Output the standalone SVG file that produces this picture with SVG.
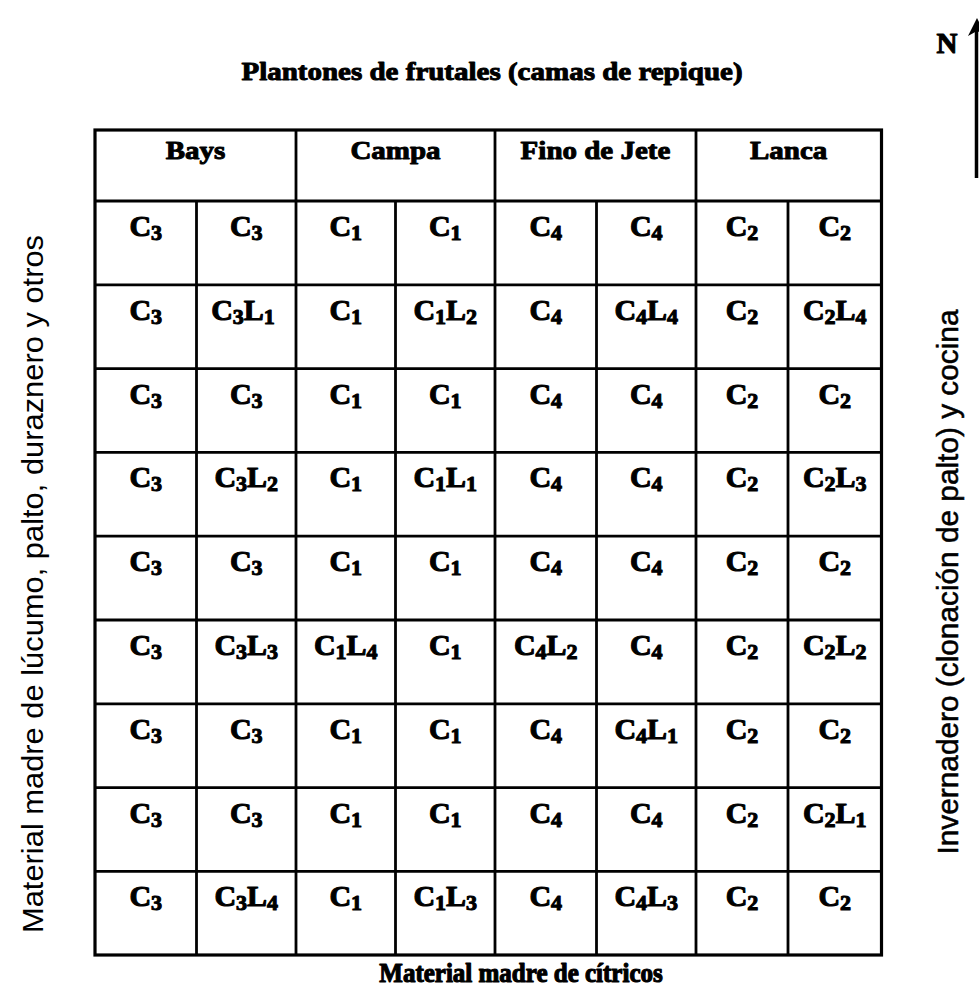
<svg xmlns="http://www.w3.org/2000/svg" width="979" height="992" viewBox="0 0 979 992">
<style>
.bg{fill:#fff}
.ser{font-family:"Liberation Serif","Times New Roman",serif;font-weight:bold;fill:#000;stroke:#000;stroke-width:1.1;stroke-linejoin:round}
.cell{font-size:30px;text-anchor:middle}
.hdr{font-size:29px;text-anchor:middle}
.sub{font-size:22px}
.san{font-family:"Liberation Sans",Arial,sans-serif;font-size:29px;fill:#000;text-anchor:middle}
.grid line{stroke:#000;stroke-width:2.8}
.outer{fill:none;stroke:#000;stroke-width:3.2}
</style>
<rect class="bg" x="0" y="0" width="979" height="992"/>
<g id="title"><text class="ser hdr" transform="translate(492 80) scale(1 0.9)">Plantones de frutales (camas de repique)</text></g>
<g id="north">
<text class="ser" font-size="29" text-anchor="middle" x="947" y="53">N</text>
<line x1="976.5" y1="28" x2="976.5" y2="178" stroke="#000" stroke-width="3.5"/>
<polygon points="977,18 968,36 977,31 986,36" fill="#000"/>
</g>
<g id="label-left"><text class="san" transform="translate(43 584) rotate(-90)" textLength="698" lengthAdjust="spacingAndGlyphs">Material madre de lúcumo, palto, duraznero y otros</text></g>
<g id="label-right"><text class="san" stroke="#000" stroke-width="0.5" transform="translate(958 582) rotate(-90)" textLength="545" lengthAdjust="spacingAndGlyphs">Invernadero (clonación de palto) y cocina</text></g>
<g id="label-bottom"><text class="ser" font-size="25" text-anchor="middle" transform="translate(521 982) scale(1 1.05)">Material madre de cítricos</text></g>
<g id="table">
<rect class="outer" x="95" y="130" width="786.5" height="825"/>
<g class="grid">
<line x1="95" y1="201" x2="881.5" y2="201"/>
<line x1="95" y1="284.8" x2="881.5" y2="284.8"/>
<line x1="95" y1="368.6" x2="881.5" y2="368.6"/>
<line x1="95" y1="452.4" x2="881.5" y2="452.4"/>
<line x1="95" y1="536.2" x2="881.5" y2="536.2"/>
<line x1="95" y1="620" x2="881.5" y2="620"/>
<line x1="95" y1="703.8" x2="881.5" y2="703.8"/>
<line x1="95" y1="787.6" x2="881.5" y2="787.6"/>
<line x1="95" y1="871.4" x2="881.5" y2="871.4"/>
<line x1="296" y1="130" x2="296" y2="955"/>
<line x1="495" y1="130" x2="495" y2="955"/>
<line x1="696" y1="130" x2="696" y2="955"/>
<line x1="196.5" y1="201" x2="196.5" y2="955"/>
<line x1="395.5" y1="201" x2="395.5" y2="955"/>
<line x1="596.5" y1="201" x2="596.5" y2="955"/>
<line x1="788" y1="201" x2="788" y2="955"/>
</g>
</g>
<g id="headers">
<g id="h-bays"><text class="ser hdr" transform="translate(195.5 159) scale(1 0.9)">Bays</text></g>
<g id="h-campa"><text class="ser hdr" transform="translate(395.5 159) scale(1 0.9)">Campa</text></g>
<g id="h-fino"><text class="ser hdr" transform="translate(595.5 159) scale(1 0.9)">Fino de Jete</text></g>
<g id="h-lanca"><text class="ser hdr" transform="translate(788.7 159) scale(1 0.9)">Lanca</text></g>
</g>
<g id="cells">
<!-- row 1 -->
<text class="ser cell" x="145.75" y="236">C<tspan class="sub" dy="4">3</tspan></text>
<text class="ser cell" x="246.25" y="236">C<tspan class="sub" dy="4">3</tspan></text>
<text class="ser cell" x="345.75" y="236">C<tspan class="sub" dy="4">1</tspan></text>
<text class="ser cell" x="445.25" y="236">C<tspan class="sub" dy="4">1</tspan></text>
<text class="ser cell" x="545.75" y="236">C<tspan class="sub" dy="4">4</tspan></text>
<text class="ser cell" x="646.25" y="236">C<tspan class="sub" dy="4">4</tspan></text>
<text class="ser cell" x="742" y="236">C<tspan class="sub" dy="4">2</tspan></text>
<text class="ser cell" x="834.75" y="236">C<tspan class="sub" dy="4">2</tspan></text>
<!-- row 2 -->
<text class="ser cell" x="145.75" y="319.8">C<tspan class="sub" dy="4">3</tspan></text>
<text class="ser cell" x="243" y="319.8">C<tspan class="sub" dy="4">3</tspan><tspan dy="-4">L</tspan><tspan class="sub" dy="4">1</tspan></text>
<text class="ser cell" x="345.75" y="319.8">C<tspan class="sub" dy="4">1</tspan></text>
<text class="ser cell" x="445.25" y="319.8">C<tspan class="sub" dy="4">1</tspan><tspan dy="-4">L</tspan><tspan class="sub" dy="4">2</tspan></text>
<text class="ser cell" x="545.75" y="319.8">C<tspan class="sub" dy="4">4</tspan></text>
<text class="ser cell" x="646.25" y="319.8">C<tspan class="sub" dy="4">4</tspan><tspan dy="-4">L</tspan><tspan class="sub" dy="4">4</tspan></text>
<text class="ser cell" x="742" y="319.8">C<tspan class="sub" dy="4">2</tspan></text>
<text class="ser cell" x="834.75" y="319.8">C<tspan class="sub" dy="4">2</tspan><tspan dy="-4">L</tspan><tspan class="sub" dy="4">4</tspan></text>
<!-- row 3 -->
<text class="ser cell" x="145.75" y="403.6">C<tspan class="sub" dy="4">3</tspan></text>
<text class="ser cell" x="246.25" y="403.6">C<tspan class="sub" dy="4">3</tspan></text>
<text class="ser cell" x="345.75" y="403.6">C<tspan class="sub" dy="4">1</tspan></text>
<text class="ser cell" x="445.25" y="403.6">C<tspan class="sub" dy="4">1</tspan></text>
<text class="ser cell" x="545.75" y="403.6">C<tspan class="sub" dy="4">4</tspan></text>
<text class="ser cell" x="646.25" y="403.6">C<tspan class="sub" dy="4">4</tspan></text>
<text class="ser cell" x="742" y="403.6">C<tspan class="sub" dy="4">2</tspan></text>
<text class="ser cell" x="834.75" y="403.6">C<tspan class="sub" dy="4">2</tspan></text>
<!-- row 4 -->
<text class="ser cell" x="145.75" y="487.4">C<tspan class="sub" dy="4">3</tspan></text>
<text class="ser cell" x="246.25" y="487.4">C<tspan class="sub" dy="4">3</tspan><tspan dy="-4">L</tspan><tspan class="sub" dy="4">2</tspan></text>
<text class="ser cell" x="345.75" y="487.4">C<tspan class="sub" dy="4">1</tspan></text>
<text class="ser cell" x="445.25" y="487.4">C<tspan class="sub" dy="4">1</tspan><tspan dy="-4">L</tspan><tspan class="sub" dy="4">1</tspan></text>
<text class="ser cell" x="545.75" y="487.4">C<tspan class="sub" dy="4">4</tspan></text>
<text class="ser cell" x="646.25" y="487.4">C<tspan class="sub" dy="4">4</tspan></text>
<text class="ser cell" x="742" y="487.4">C<tspan class="sub" dy="4">2</tspan></text>
<text class="ser cell" x="834.75" y="487.4">C<tspan class="sub" dy="4">2</tspan><tspan dy="-4">L</tspan><tspan class="sub" dy="4">3</tspan></text>
<!-- row 5 -->
<text class="ser cell" x="145.75" y="571.2">C<tspan class="sub" dy="4">3</tspan></text>
<text class="ser cell" x="246.25" y="571.2">C<tspan class="sub" dy="4">3</tspan></text>
<text class="ser cell" x="345.75" y="571.2">C<tspan class="sub" dy="4">1</tspan></text>
<text class="ser cell" x="445.25" y="571.2">C<tspan class="sub" dy="4">1</tspan></text>
<text class="ser cell" x="545.75" y="571.2">C<tspan class="sub" dy="4">4</tspan></text>
<text class="ser cell" x="646.25" y="571.2">C<tspan class="sub" dy="4">4</tspan></text>
<text class="ser cell" x="742" y="571.2">C<tspan class="sub" dy="4">2</tspan></text>
<text class="ser cell" x="834.75" y="571.2">C<tspan class="sub" dy="4">2</tspan></text>
<!-- row 6 -->
<text class="ser cell" x="145.75" y="655">C<tspan class="sub" dy="4">3</tspan></text>
<text class="ser cell" x="246.25" y="655">C<tspan class="sub" dy="4">3</tspan><tspan dy="-4">L</tspan><tspan class="sub" dy="4">3</tspan></text>
<text class="ser cell" x="345.75" y="655">C<tspan class="sub" dy="4">1</tspan><tspan dy="-4">L</tspan><tspan class="sub" dy="4">4</tspan></text>
<text class="ser cell" x="445.25" y="655">C<tspan class="sub" dy="4">1</tspan></text>
<text class="ser cell" x="545.75" y="655">C<tspan class="sub" dy="4">4</tspan><tspan dy="-4">L</tspan><tspan class="sub" dy="4">2</tspan></text>
<text class="ser cell" x="646.25" y="655">C<tspan class="sub" dy="4">4</tspan></text>
<text class="ser cell" x="742" y="655">C<tspan class="sub" dy="4">2</tspan></text>
<text class="ser cell" x="834.75" y="655">C<tspan class="sub" dy="4">2</tspan><tspan dy="-4">L</tspan><tspan class="sub" dy="4">2</tspan></text>
<!-- row 7 -->
<text class="ser cell" x="145.75" y="738.8">C<tspan class="sub" dy="4">3</tspan></text>
<text class="ser cell" x="246.25" y="738.8">C<tspan class="sub" dy="4">3</tspan></text>
<text class="ser cell" x="345.75" y="738.8">C<tspan class="sub" dy="4">1</tspan></text>
<text class="ser cell" x="445.25" y="738.8">C<tspan class="sub" dy="4">1</tspan></text>
<text class="ser cell" x="545.75" y="738.8">C<tspan class="sub" dy="4">4</tspan></text>
<text class="ser cell" x="646.25" y="738.8">C<tspan class="sub" dy="4">4</tspan><tspan dy="-4">L</tspan><tspan class="sub" dy="4">1</tspan></text>
<text class="ser cell" x="742" y="738.8">C<tspan class="sub" dy="4">2</tspan></text>
<text class="ser cell" x="834.75" y="738.8">C<tspan class="sub" dy="4">2</tspan></text>
<!-- row 8 -->
<text class="ser cell" x="145.75" y="822.6">C<tspan class="sub" dy="4">3</tspan></text>
<text class="ser cell" x="246.25" y="822.6">C<tspan class="sub" dy="4">3</tspan></text>
<text class="ser cell" x="345.75" y="822.6">C<tspan class="sub" dy="4">1</tspan></text>
<text class="ser cell" x="445.25" y="822.6">C<tspan class="sub" dy="4">1</tspan></text>
<text class="ser cell" x="545.75" y="822.6">C<tspan class="sub" dy="4">4</tspan></text>
<text class="ser cell" x="646.25" y="822.6">C<tspan class="sub" dy="4">4</tspan></text>
<text class="ser cell" x="742" y="822.6">C<tspan class="sub" dy="4">2</tspan></text>
<text class="ser cell" x="834.75" y="822.6">C<tspan class="sub" dy="4">2</tspan><tspan dy="-4">L</tspan><tspan class="sub" dy="4">1</tspan></text>
<!-- row 9 -->
<text class="ser cell" x="145.75" y="906.4">C<tspan class="sub" dy="4">3</tspan></text>
<text class="ser cell" x="246.25" y="906.4">C<tspan class="sub" dy="4">3</tspan><tspan dy="-4">L</tspan><tspan class="sub" dy="4">4</tspan></text>
<text class="ser cell" x="345.75" y="906.4">C<tspan class="sub" dy="4">1</tspan></text>
<text class="ser cell" x="445.25" y="906.4">C<tspan class="sub" dy="4">1</tspan><tspan dy="-4">L</tspan><tspan class="sub" dy="4">3</tspan></text>
<text class="ser cell" x="545.75" y="906.4">C<tspan class="sub" dy="4">4</tspan></text>
<text class="ser cell" x="646.25" y="906.4">C<tspan class="sub" dy="4">4</tspan><tspan dy="-4">L</tspan><tspan class="sub" dy="4">3</tspan></text>
<text class="ser cell" x="742" y="906.4">C<tspan class="sub" dy="4">2</tspan></text>
<text class="ser cell" x="834.75" y="906.4">C<tspan class="sub" dy="4">2</tspan></text>
</g>
</svg>
